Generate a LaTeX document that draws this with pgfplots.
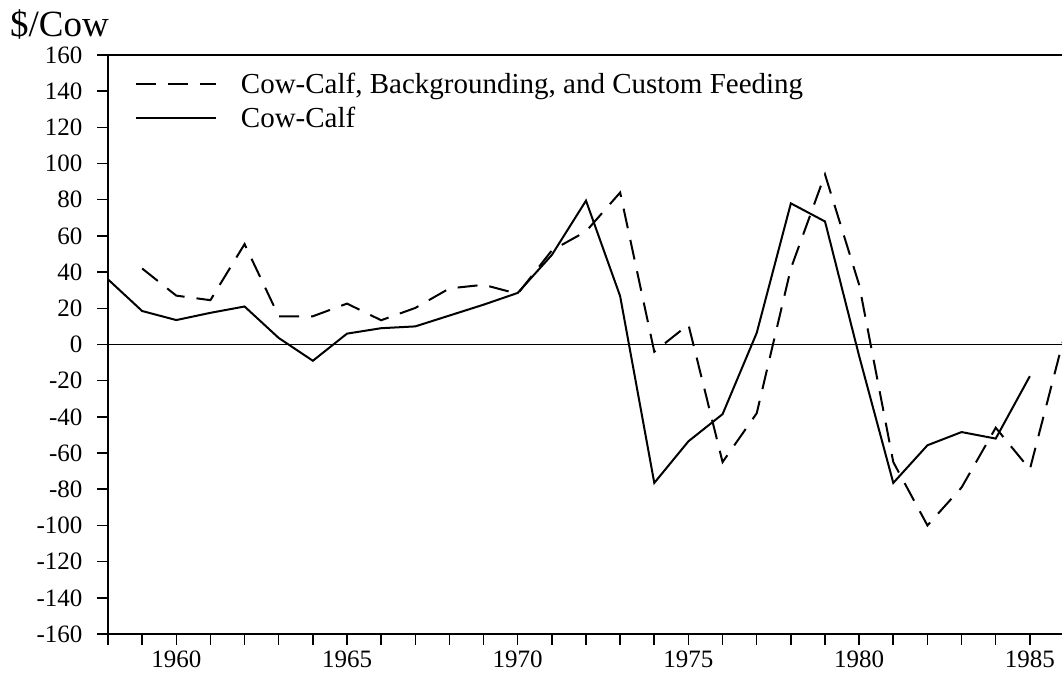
\documentclass[border=0pt]{standalone}
\usepackage{pgfplots}
\pgfplotsset{compat=1.18}
\usepackage{fontspec}
\setmainfont{Liberation Serif}
\begin{document}
\begin{tikzpicture}
\begin{axis}[
  scale only axis,
  width=956pt, height=579pt,
  xmin=1958, xmax=1986,
  ymin=-160, ymax=160,
  axis line style={line width=1.8pt},
  tick style={line width=1.5pt, black},
  tick align=outside,
  xtick pos=bottom, ytick pos=left,
  major tick length=11pt, minor tick length=11pt,
  xtick={1960,1965,1970,1975,1980,1985},
  xticklabels={1960,1965,1970,1975,1980,1985},
  minor xtick={1958,1959,...,1986},
  ytick={-160,-140,...,160},
  yticklabels={-160,-140,-120,-100,-80,-60,-40,-20,0,20,40,60,80,100,120,140,160},
  ticklabel style={font=\fontsize{25}{28}\selectfont},
  xticklabel style={yshift=-2pt},
  yticklabel style={xshift=-11pt},
  legend style={at={(rel axis cs:0.028,0.972)}, anchor=north west, draw=none, fill=none,
    font=\fontsize{29}{32}\selectfont, row sep=8pt, inner sep=0pt},
  legend cell align=left,
  legend image code/.code={\draw[#1] (0pt,0pt) -- (80pt,0pt);},
  legend style={nodes={inner xsep=24pt}},
  clip=false,
]
\addplot[black, line width=2pt, dash pattern=on 20pt off 12pt] coordinates {
(1959,42) (1960,27) (1961,24.5) (1962,55.5) (1963,15.6) (1964,15.6) (1965,22.6)
(1966,13.4) (1967,20.2) (1968,31) (1969,33) (1970,28) (1971,52) (1972,62.5)
(1973,84) (1974,-4) (1975,11) (1976,-65) (1977,-38) (1978,42) (1979,94)
(1980,33) (1981,-65) (1982,-100) (1983,-79) (1984,-46) (1985,-69) (1986,4)
};
\addlegendentry{Cow-Calf, Backgrounding, and Custom Feeding}
\addplot[black, line width=2pt] coordinates {
(1958,36) (1959,18.5) (1960,13.5) (1961,17.5) (1962,21) (1963,3.6) (1964,-9)
(1965,6) (1966,9) (1967,10) (1968,16) (1969,22) (1970,28.5) (1971,49.5)
(1972,79.5) (1973,26.7) (1974,-76.5) (1975,-53.5) (1976,-38.5) (1977,6.4)
(1978,78) (1979,68) (1980,-6.4) (1981,-76.5) (1982,-55.7) (1983,-48.4)
(1984,-52) (1985,-17.5)
};
\addlegendentry{Cow-Calf}
\addplot[black, line width=1.8pt, forget plot] coordinates {(1958,0) (1986,0)};
\node[anchor=base west, font=\fontsize{37}{40}\selectfont, inner sep=0pt]
  at ([xshift=-98pt,yshift=18pt]rel axis cs:0,1) {\$/Cow};
\end{axis}
\pgfresetboundingbox
\path[use as bounding box] (-108pt,-42pt) rectangle (954pt,634pt);
\end{tikzpicture}
\end{document}
